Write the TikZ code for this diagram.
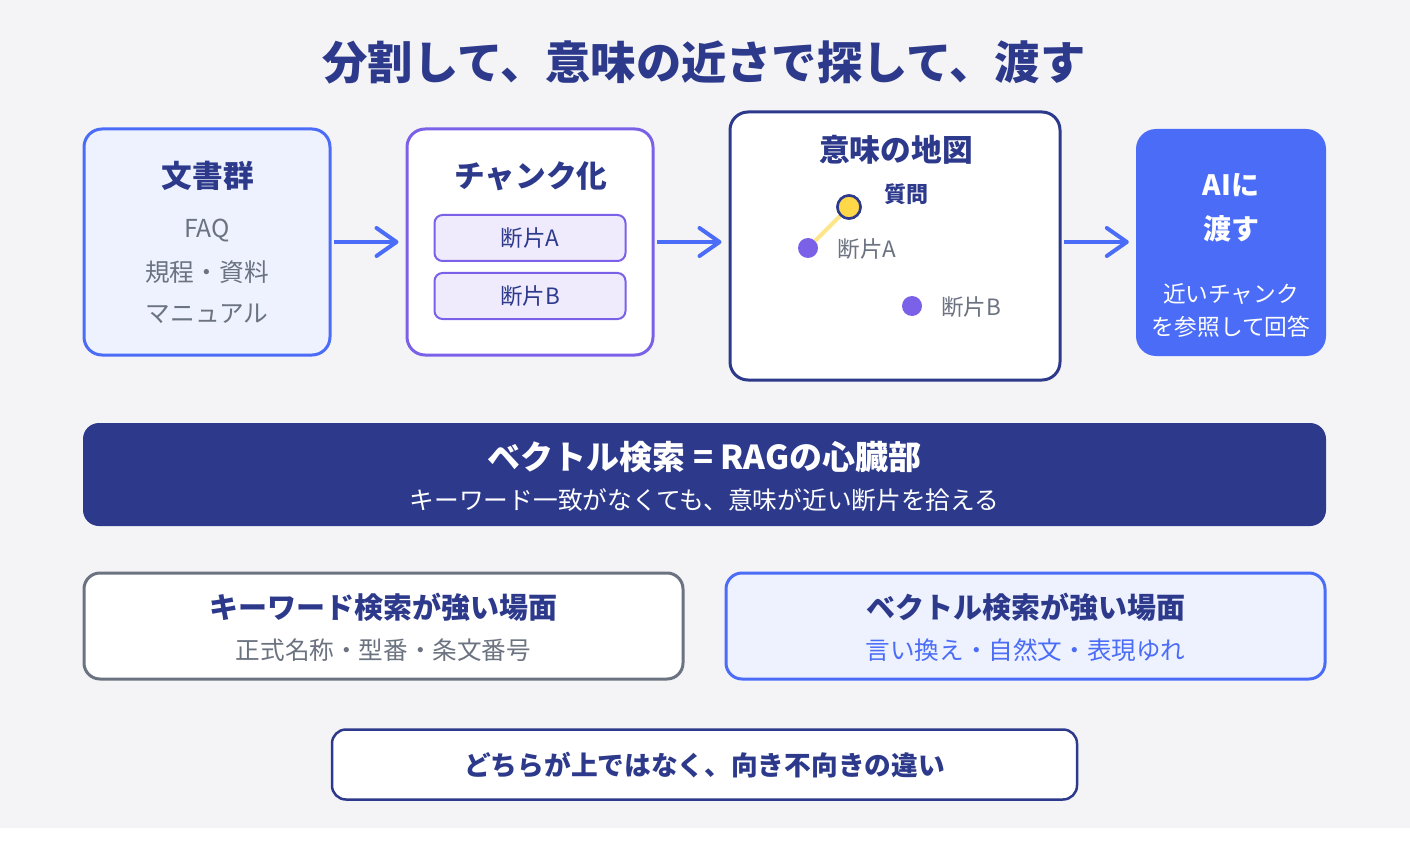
\documentclass[tikz,border=0pt]{standalone}
\usepackage{fontspec}
\setmainfont{Noto Sans CJK JP}
\usetikzlibrary{arrows.meta}
\definecolor{navy}{HTML}{2D3A8C}
\definecolor{cblue}{HTML}{4A6CF7}
\definecolor{cpurple}{HTML}{7B61E8}
\definecolor{lblue}{HTML}{EEF2FE}
\definecolor{lpurple}{HTML}{EFEBFD}
\definecolor{cgray}{HTML}{6B7280}
\definecolor{bg}{HTML}{F4F4F7}
\definecolor{cyellow}{HTML}{FFD84A}
\definecolor{lyellow}{HTML}{FDE68A}
\tikzset{
  box/.style={rectangle, rounded corners=18pt, line width=3pt, inner sep=0pt},
  chunk/.style={rectangle, rounded corners=8pt, line width=2pt, draw=cpurple, fill=lpurple, minimum width=191pt, minimum height=46pt, font=\fontsize{22.5}{22.5}\selectfont, text=navy},
  flow/.style={draw=cblue, line width=4pt, -{Straight Barb[round, length=20pt, width=28pt]}, shorten <=2pt, shorten >=7pt},
  ttl/.style={font=\fontsize{30.7}{30.7}\selectfont\bfseries, text=navy},
  sub/.style={font=\fontsize{24.7}{24.7}\selectfont, text=cgray},
  dot/.style={circle, fill=cpurple, minimum size=20pt, inner sep=0pt},
}
\begin{document}
\begin{tikzpicture}[x=1pt,y=-1pt]
\useasboundingbox (0,0) rectangle (1410,850);
\fill[white] (0,0) rectangle (1410,850);
\fill[bg] (0,0) rectangle (1410,828);
% title
\node[font=\fontsize{45.3}{45.3}\selectfont\bfseries, text=navy] (title) at (704,62) {分割して、意味の近さで探して、渡す};
% box 1
\node[box, draw=cblue, fill=lblue, minimum width=246pt, minimum height=226pt] (b1) at (207,242) {};
\node[ttl] (b1t) at (208,176) {文書群};
\node[sub] (b1a) at (207,231) {FAQ};
\node[sub] (b1b) at (207,272) {規程・資料};
\node[sub] (b1c) at (207,314) {マニュアル};
% box 2
\node[box, draw=cpurple, fill=white, minimum width=246pt, minimum height=226pt] (b2) at (530,242) {};
\node[ttl] (b2t) at (531,176) {チャンク化};
\node[chunk] (ca) at (530,238) {断片A};
\node[chunk] (cb) at (530,296) {断片B};
% box 3
\node[box, draw=navy, fill=white, minimum width=330pt, minimum height=268pt] (b3) at (895,246) {};
\node[ttl] (b3t) at (896,150) {意味の地図};
\node[dot] (da) at (808,248) {};
\node[dot] (db) at (912,306) {};
\node[circle, fill=cyellow, draw=navy, line width=2.5pt, minimum size=23pt, inner sep=0pt] (q) at (849,207) {};
\draw[lyellow, line width=4pt] (q) -- (da);
\node[circle, fill=cyellow, draw=navy, line width=2.5pt, minimum size=23pt, inner sep=0pt] at (849,207) {};
\node[font=\fontsize{22}{22}\selectfont\bfseries, text=navy] (qt) at (906,194) {質問};
\node[sub, font=\fontsize{22.5}{22.5}\selectfont] (dat) at (867,249) {断片A};
\node[sub, font=\fontsize{22.5}{22.5}\selectfont] (dbt) at (971,307) {断片B};
% box 4
\node[rectangle, rounded corners=20pt, fill=cblue, minimum width=190pt, minimum height=227pt] (b4) at (1231,242.5) {};
\node[font=\fontsize{28}{28}\selectfont\bfseries, text=white] (b4a) at (1231,185) {AIに};
\node[font=\fontsize{28}{28}\selectfont\bfseries, text=white] (b4b) at (1231,229) {渡す};
\node[font=\fontsize{22.7}{22.7}\selectfont, text=white] (b4c) at (1231,294) {近いチャンク};
\node[font=\fontsize{22.7}{22.7}\selectfont, text=white] (b4d) at (1231,327) {を参照して回答};
% arrows
\draw[flow] (b1.east |- 0,242) -- (b2.west |- 0,242);
\draw[flow] (b2.east |- 0,242) -- (b3.west |- 0,242);
\draw[flow] (b3.east |- 0,242) -- (b4.west |- 0,242);
% banner
\node[rectangle, rounded corners=16pt, fill=navy, minimum width=1243pt, minimum height=103pt] (ban) at (704.5,474.5) {};
\node[font=\fontsize{33}{33}\selectfont\bfseries, text=white] (bant) at (704.5,457) {ベクトル検索 = RAGの心臓部};
\node[font=\fontsize{24.7}{24.7}\selectfont, text=white] (bans) at (704.5,500) {キーワード一致がなくても、意味が近い断片を拾える};
% left / right
\node[box, rounded corners=16pt, draw=cgray, fill=white, minimum width=599pt, minimum height=106pt] (kl) at (383.5,626) {};
\node[font=\fontsize{29}{29}\selectfont\bfseries, text=navy] (klt) at (383.5,607) {キーワード検索が強い場面};
\node[sub, font=\fontsize{24.6}{24.6}\selectfont] (kls) at (383.5,650) {正式名称・型番・条文番号};
\node[box, rounded corners=16pt, draw=cblue, fill=lblue, minimum width=599pt, minimum height=106pt] (kr) at (1025.5,626) {};
\node[font=\fontsize{29}{29}\selectfont\bfseries, text=navy] (krt) at (1025.5,607) {ベクトル検索が強い場面};
\node[font=\fontsize{24.6}{24.6}\selectfont, text=cblue] (krs) at (1025.5,650) {言い換え・自然文・表現ゆれ};
% bottom
\node[box, rounded corners=14pt, line width=2.5pt, draw=navy, fill=white, minimum width=745pt, minimum height=70pt] (bt) at (704.5,764.5) {};
\node[font=\fontsize{26.7}{26.7}\selectfont\bfseries, text=navy] (btt) at (704.5,765) {どちらが上ではなく、向き不向きの違い};
\end{tikzpicture}
\end{document}
